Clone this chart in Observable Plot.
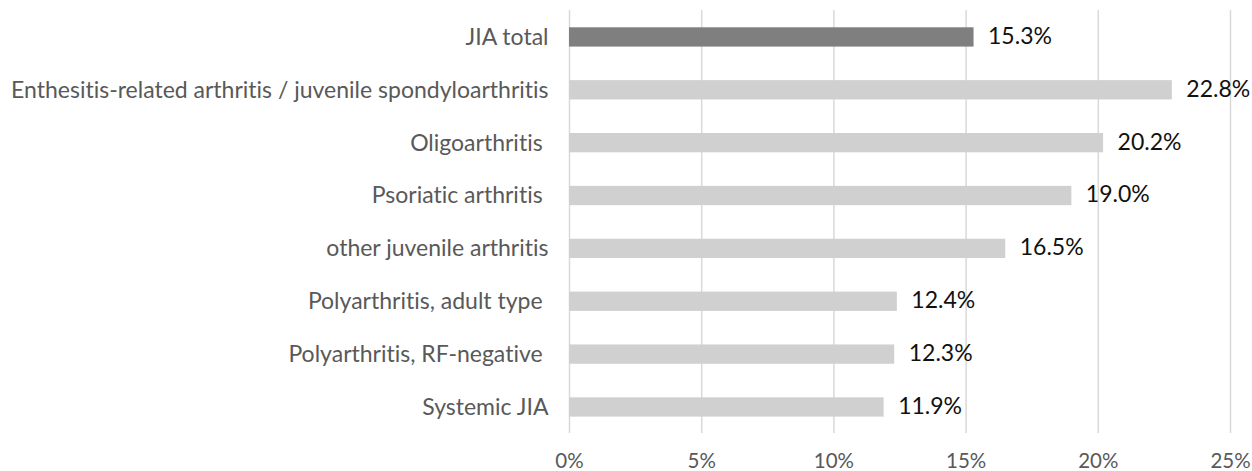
<!DOCTYPE html>
<html>
<head>
<meta charset="utf-8">
<script src="https://cdn.jsdelivr.net/npm/d3@7"></script>
<script src="https://cdn.jsdelivr.net/npm/@observablehq/plot@0.6"></script>
<style>
  html, body { margin: 0; padding: 0; background: #fff; }
  #chart svg { display: block; font-variant-ligatures: none; }
</style>
</head>
<body>
<div id="chart"></div>
<script>
const categories = [
  "JIA total",
  "Enthesitis-related arthritis / juvenile spondyloarthritis",
  "Oligoarthritis\u00a0",
  "Psoriatic arthritis\u00a0",
  "other juvenile arthritis",
  "Polyarthritis, adult type\u00a0",
  "Polyarthritis, RF-negative\u00a0",
  "Systemic JIA"
];
const values = [15.3, 22.8, 20.2, 19.0, 16.5, 12.4, 12.3, 11.9];
const groups = ["total", "sub", "sub", "sub", "sub", "sub", "sub", "sub"];
const xTicks = [0, 5, 10, 15, 20, 25];

const data = categories.map((c, i) => ({ category: c, value: values[i], group: groups[i] }));

const font = "Lato, 'Open Sans', sans-serif";

const chart = Plot.plot({
  width: 1252,
  height: 471,
  marginLeft: 569,
  marginRight: 22,
  marginTop: 10,
  marginBottom: 38,
  style: { fontFamily: font, background: "#fff" },
  x: { domain: [0, 25] },
  y: { domain: categories, range: [10.5, 433.4], round: false, paddingInner: 0.635, paddingOuter: 0.3175 },
  color: { domain: ["total", "sub"], range: ["#7f7f7f", "#d0d0d0"] },
  marks: [
    Plot.ruleX(xTicks, { stroke: "#d9d9d9", strokeWidth: 1.5 }),
    Plot.barX(data, { x: "value", y: "category", fill: "group" }),
    Plot.text(data, {
      x: "value", y: "category",
      text: d => d.value.toFixed(1) + "%",
      textAnchor: "start", dx: 14, dy: -1, fontSize: 23, fill: "#111"
    }),
    Plot.axisY({ tickSize: 0, tickPadding: 21, fontSize: 23, fill: "#595959", label: null }),
    Plot.axisX({ ticks: xTicks, tickFormat: d => d + "%", tickSize: 0, tickPadding: 20, fontSize: 20.5, fill: "#595959", label: null })
  ]
});
document.getElementById("chart").appendChild(chart);
</script>
</body>
</html>
